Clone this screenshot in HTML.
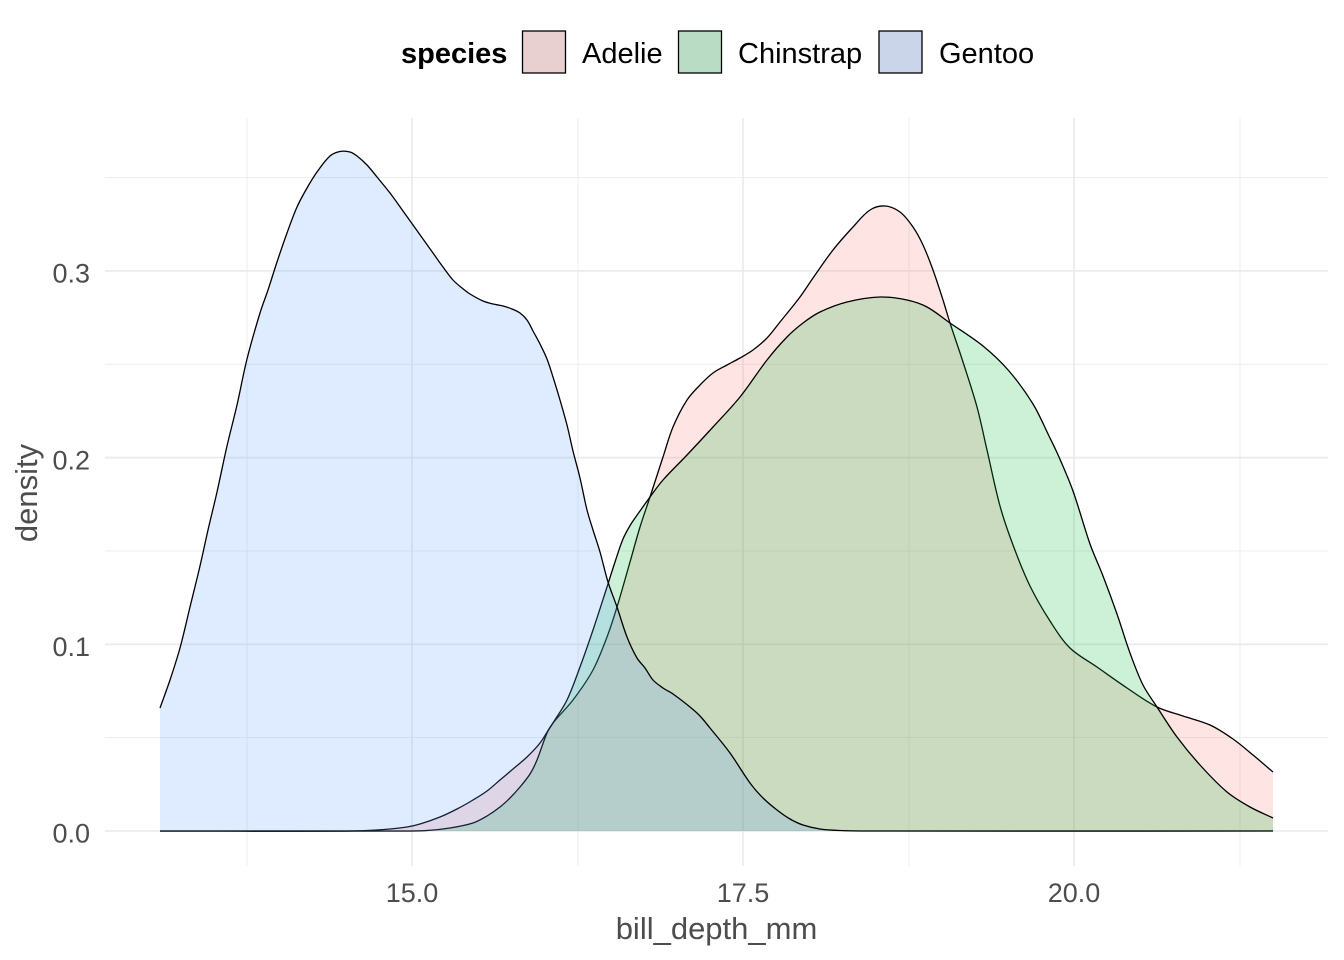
<!DOCTYPE html>
<html>
<head>
<meta charset="utf-8">
<style>
  html, body { margin: 0; padding: 0; background: #ffffff; }
  svg { display: block; }
  .tick { font-family: "Liberation Sans", Arial, sans-serif; font-size: 27px; fill: #4d4d4d; }
  .title { font-family: "Liberation Sans", Arial, sans-serif; font-size: 31px; fill: #4d4d4d; }
  .leg { font-family: "Liberation Sans", Arial, sans-serif; font-size: 29px; fill: #000000; }
  .legb { font-family: "Liberation Sans", Arial, sans-serif; font-size: 29px; font-weight: bold; fill: #000000; }
</style>
</head>
<body>
<svg id="chart" width="1344" height="960" viewBox="0 0 1344 960" xmlns="http://www.w3.org/2000/svg">
  <rect x="0" y="0" width="1344" height="960" fill="#ffffff"/>

  <!-- minor gridlines -->
  <g stroke="#ebebeb" stroke-width="0.9" fill="none">
    <line x1="105" y1="737.6" x2="1328" y2="737.6"/>
    <line x1="105" y1="550.9" x2="1328" y2="550.9"/>
    <line x1="105" y1="364.3" x2="1328" y2="364.3"/>
    <line x1="105" y1="177.6" x2="1328" y2="177.6"/>
    <line x1="247" y1="118" x2="247" y2="866"/>
    <line x1="578" y1="118" x2="578" y2="866"/>
    <line x1="909" y1="118" x2="909" y2="866"/>
    <line x1="1240" y1="118" x2="1240" y2="866"/>
  </g>
  <!-- major gridlines -->
  <g stroke="#ebebeb" stroke-width="1.7" fill="none">
    <line x1="105" y1="831" x2="1328" y2="831"/>
    <line x1="105" y1="644.3" x2="1328" y2="644.3"/>
    <line x1="105" y1="457.6" x2="1328" y2="457.6"/>
    <line x1="105" y1="270.9" x2="1328" y2="270.9"/>
    <line x1="412" y1="118" x2="412" y2="866"/>
    <line x1="743" y1="118" x2="743" y2="866"/>
    <line x1="1074" y1="118" x2="1074" y2="866"/>
  </g>

  <!-- Adelie -->
  <polygon class="smooth" data-close="1" fill="#F8766D" fill-opacity="0.2" stroke="none" points="160,831 340,831 367,830.5 390,829 407,827 420,824 440,817 457,809 473,800 487,791 500,780 513,769 527,757 540,743 553,723 573,700 593,670 607,637 617,607 630,562 640,527 650,497 663,457 673,427 687,400 700,385 713,373 727,365 740,358 753,350 767,338 780,322 800,297 813,278 833,250 853,227 870,210 885,206 900,212 913,227 923,245 933,270 943,300 950,323 963,362 977,407 987,450 1000,506 1013,545 1030,586 1050,621 1070,648 1097,667 1127,688 1157,707 1183,716 1210,725 1233,739 1253,755 1273,772"/>
  <polyline class="smooth" fill="none" stroke="#000" stroke-width="1.3" stroke-linejoin="round" points="160,831 340,831 367,830.5 390,829 407,827 420,824 440,817 457,809 473,800 487,791 500,780 513,769 527,757 540,743 553,723 573,700 593,670 607,637 617,607 630,562 640,527 650,497 663,457 673,427 687,400 700,385 713,373 727,365 740,358 753,350 767,338 780,322 800,297 813,278 833,250 853,227 870,210 885,206 900,212 913,227 923,245 933,270 943,300 950,323 963,362 977,407 987,450 1000,506 1013,545 1030,586 1050,621 1070,648 1097,667 1127,688 1157,707 1183,716 1210,725 1233,739 1253,755 1273,772"/>

  <!-- Chinstrap -->
  <polygon class="smooth" data-close="1" fill="#00BA38" fill-opacity="0.2" stroke="none" points="160,831 400,831 427,830.5 450,828 473,823 487,816 500,807 510,798 520,787 530,774 537,760 547,733 553,723 567,700 580,667 593,630 607,587 615,562 623,539 631,524 640,511 650,497 663,480 687,455 713,427 740,397 767,360 787,337 803,323 820,312 847,302 880,297 907,300 927,307 950,323 983,346 1009,371 1033,404 1049,436 1059,457 1073,491 1090,544 1103,576 1117,614 1130,653 1143,685 1157,707 1177,737 1200,765 1227,792 1250,807 1273,818"/>
  <polyline class="smooth" fill="none" stroke="#000" stroke-width="1.3" stroke-linejoin="round" points="160,831 400,831 427,830.5 450,828 473,823 487,816 500,807 510,798 520,787 530,774 537,760 547,733 553,723 567,700 580,667 593,630 607,587 615,562 623,539 631,524 640,511 650,497 663,480 687,455 713,427 740,397 767,360 787,337 803,323 820,312 847,302 880,297 907,300 927,307 950,323 983,346 1009,371 1033,404 1049,436 1059,457 1073,491 1090,544 1103,576 1117,614 1130,653 1143,685 1157,707 1177,737 1200,765 1227,792 1250,807 1273,818"/>

  <!-- Gentoo -->
  <polygon class="smooth" data-close="1" fill="#619CFF" fill-opacity="0.2" stroke="none" points="160,708 170,680 180,648 190,607 200,566 208,530 217,492 227,446 237,405 247,359 260,313 268,290 277,262 287,233 297,207 307,188 317,172 330,156 340,151.5 350,152 357,156 367,165 377,177 390,193 403,211 418,232 433,253 443,267 453,280 462,288 470,294 483,301 493,304 503,306 512,309 520,313 527,320 533,331 540,344 547,359 553,377 560,400 567,425 573,451 580,478 587,510 593,530 600,552 608,582 617,607 627,637 637,658 645,668 653,680 663,688 673,694 690,707 700,716 710,728 730,753 750,783 763,798 777,810 790,819 803,825 820,829 840,830.5 870,831 1273,831"/>
  <polyline class="smooth" fill="none" stroke="#000" stroke-width="1.3" stroke-linejoin="round" points="160,708 170,680 180,648 190,607 200,566 208,530 217,492 227,446 237,405 247,359 260,313 268,290 277,262 287,233 297,207 307,188 317,172 330,156 340,151.5 350,152 357,156 367,165 377,177 390,193 403,211 418,232 433,253 443,267 453,280 462,288 470,294 483,301 493,304 503,306 512,309 520,313 527,320 533,331 540,344 547,359 553,377 560,400 567,425 573,451 580,478 587,510 593,530 600,552 608,582 617,607 627,637 637,658 645,668 653,680 663,688 673,694 690,707 700,716 710,728 730,753 750,783 763,798 777,810 790,819 803,825 820,829 840,830.5 870,831 1273,831"/>

  <!-- y tick labels -->
  <g class="tick" text-anchor="end">
    <text x="90" y="842.5">0.0</text>
    <text x="90" y="656">0.1</text>
    <text x="90" y="469.5">0.2</text>
    <text x="90" y="282.5">0.3</text>
  </g>
  <!-- x tick labels -->
  <g class="tick" text-anchor="middle">
    <text x="412" y="902">15.0</text>
    <text x="743" y="902">17.5</text>
    <text x="1074" y="902">20.0</text>
  </g>

  <!-- axis titles -->
  <text class="title" x="716.5" y="939" text-anchor="middle">bill_depth_mm</text>
  <text class="title" text-anchor="middle" transform="translate(37,493) rotate(-90)">density</text>

  <!-- legend -->
  <text class="legb" x="401" y="63">species</text>
  <rect x="522.5" y="31" width="43" height="42" fill="#e8cfd0" stroke="#000" stroke-width="1.3"/>
  <text class="leg" x="582" y="63">Adelie</text>
  <rect x="678.5" y="31" width="43" height="42" fill="#b9dcc4" stroke="#000" stroke-width="1.3"/>
  <text class="leg" x="738" y="63">Chinstrap</text>
  <rect x="879" y="31" width="43" height="42" fill="#cad5ea" stroke="#000" stroke-width="1.3"/>
  <text class="leg" x="939" y="63">Gentoo</text>
</svg>
<script>
(function () {
  try {
    var NS = "http://www.w3.org/2000/svg";
    var els = document.querySelectorAll(".smooth");
    for (var k = 0; k < els.length; k++) {
      var el = els[k];
      var raw = el.getAttribute("points").trim().split(/\s+/);
      var P = raw.map(function (s) { var a = s.split(","); return [parseFloat(a[0]), parseFloat(a[1])]; });
      var n = P.length;
      var T = [];
      for (var i = 0; i < n; i++) {
        var a = P[Math.max(0, i - 1)], b = P[Math.min(n - 1, i + 1)];
        var dx = b[0] - a[0], dy = b[1] - a[1];
        var L = Math.sqrt(dx * dx + dy * dy) || 1;
        T.push([dx / L, dy / L]);
      }
      var d = "M" + P[0][0] + "," + P[0][1];
      for (var i = 0; i < n - 1; i++) {
        var p0 = P[i], p1 = P[i + 1];
        var sx = p1[0] - p0[0], sy = p1[1] - p0[1];
        var len = Math.sqrt(sx * sx + sy * sy) / 3;
        var c1 = [p0[0] + T[i][0] * len, p0[1] + T[i][1] * len];
        var c2 = [p1[0] - T[i + 1][0] * len, p1[1] - T[i + 1][1] * len];
        d += " C" + c1[0].toFixed(2) + "," + c1[1].toFixed(2) + " " + c2[0].toFixed(2) + "," + c2[1].toFixed(2) + " " + p1[0] + "," + p1[1];
      }
      if (el.getAttribute("data-close")) {
        d += " L" + P[n - 1][0] + ",831 L" + P[0][0] + ",831 Z";
      }
      var path = document.createElementNS(NS, "path");
      var attrs = ["fill", "fill-opacity", "stroke", "stroke-width", "stroke-linejoin"];
      for (var j = 0; j < attrs.length; j++) {
        var v = el.getAttribute(attrs[j]);
        if (v !== null) path.setAttribute(attrs[j], v);
      }
      path.setAttribute("d", d);
      el.parentNode.replaceChild(path, el);
    }
  } catch (e) {}
})();
</script>
</body>
</html>
